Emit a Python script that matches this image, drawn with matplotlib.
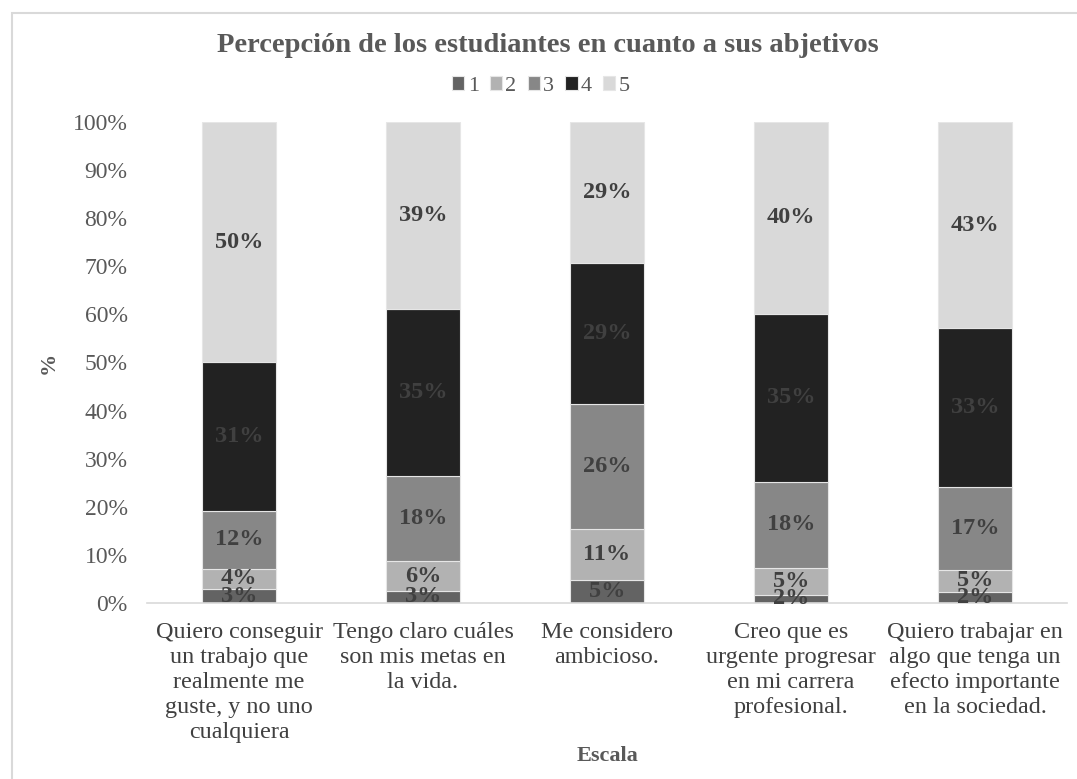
import matplotlib
matplotlib.use("Agg")
import matplotlib.pyplot as plt
from matplotlib.patches import Rectangle
import numpy as np

categories = [
    "Quiero conseguir\nun trabajo que\nrealmente me\nguste, y no uno\ncualquiera",
    "Tengo claro cuáles\nson mis metas en\nla vida.",
    "Me considero\nambicioso.",
    "Creo que es\nurgente progresar\nen mi carrera\nprofesional.",
    "Quiero trabajar en\nalgo que tenga un\nefecto importante\nen la sociedad.",
]
series_names = ["1", "2", "3", "4", "5"]
s1 = [2.9, 2.5, 4.8, 1.7, 2.3]
s2 = [4.2, 6.2, 10.6, 5.6, 4.6]
s3 = [12.0, 17.7, 26.0, 17.9, 17.2]
s4 = [31.0, 34.7, 29.3, 34.9, 33.0]
s5 = [49.9, 38.9, 29.3, 39.9, 42.9]
labels1 = ["3%", "3%", "5%", "2%", "2%"]
labels2 = ["4%", "6%", "11%", "5%", "5%"]
labels3 = ["12%", "18%", "26%", "18%", "17%"]
labels4 = ["31%", "35%", "29%", "35%", "33%"]
labels5 = ["50%", "39%", "29%", "40%", "43%"]
yticks = [0, 10, 20, 30, 40, 50, 60, 70, 80, 90, 100]

series = [s1, s2, s3, s4, s5]
labels = [labels1, labels2, labels3, labels4, labels5]
colors = ["#636363", "#b2b2b2", "#878787", "#222222", "#d9d9d9"]

FAM = ['Liberation Serif', 'DejaVu Serif']
plt.rcParams['font.family'] = FAM

fig = plt.figure(figsize=(10.77, 7.79), dpi=100)
ax = fig.add_axes([147/1077, 1-603/779, (1067-147)/1077, (603-122)/779])

x = np.arange(len(categories))
bottom = np.zeros(len(categories))
for vals, labs, col, name in zip(series, labels, colors, series_names):
    vals = np.array(vals)
    ax.bar(x, vals, 0.397, bottom=bottom, color=col, edgecolor="#e6e6e6",
           linewidth=0.8, label=name, zorder=2)
    for xi, b, v, t in zip(x, bottom, vals, labs):
        ax.text(xi, b + v/2, t, ha="center", va="center", fontsize=17.5,
                fontweight="bold", color="#404040", zorder=3, family=FAM)
    bottom += vals

ax.set_xlim(-0.5, len(categories)-0.5)
ax.set_ylim(0, 100)
ax.set_yticks(yticks)
ax.set_yticklabels([f"{t}%" for t in yticks], fontsize=17, color="#595959", family=FAM)
ax.set_xticks(x)
ax.set_xticklabels(categories, fontsize=17.4, color="#404040", linespacing=1.25, family=FAM)
ax.tick_params(axis="both", length=0)
ax.tick_params(axis="y", pad=14)
ax.tick_params(axis="x", pad=14)
for sp in ["top", "right", "left"]:
    ax.spines[sp].set_visible(False)
ax.spines["bottom"].set_color("#d9d9d9")
ax.spines["bottom"].set_linewidth(1.2)

ax.set_ylabel("%", fontsize=16, fontweight="bold", color="#595959", labelpad=10, family=FAM)
ax.set_xlabel("Escala", fontsize=16, fontweight="bold", color="#595959", labelpad=2, family=FAM)

fig.text(548/1077, 1-46/779, "Percepción de los estudiantes en cuanto a sus abjetivos",
         ha="center", va="center", fontsize=20.5, fontweight="bold", color="#595959", family=FAM)
leg = fig.legend(loc="center", bbox_to_anchor=(541/1077, 1-86/779), ncol=5,
                 frameon=False, handlelength=0.55, handleheight=0.55,
                 handletextpad=0.15, columnspacing=0.5, labelcolor="#595959",
                 prop={'family': FAM, 'size': 16})

fig.patches.append(Rectangle((12/1077, -0.1), 1.2, 1-13/779+0.1, transform=fig.transFigure,
                             fill=False, edgecolor="#d9d9d9", linewidth=1.5))

fig.savefig("out.png", dpi=100)
